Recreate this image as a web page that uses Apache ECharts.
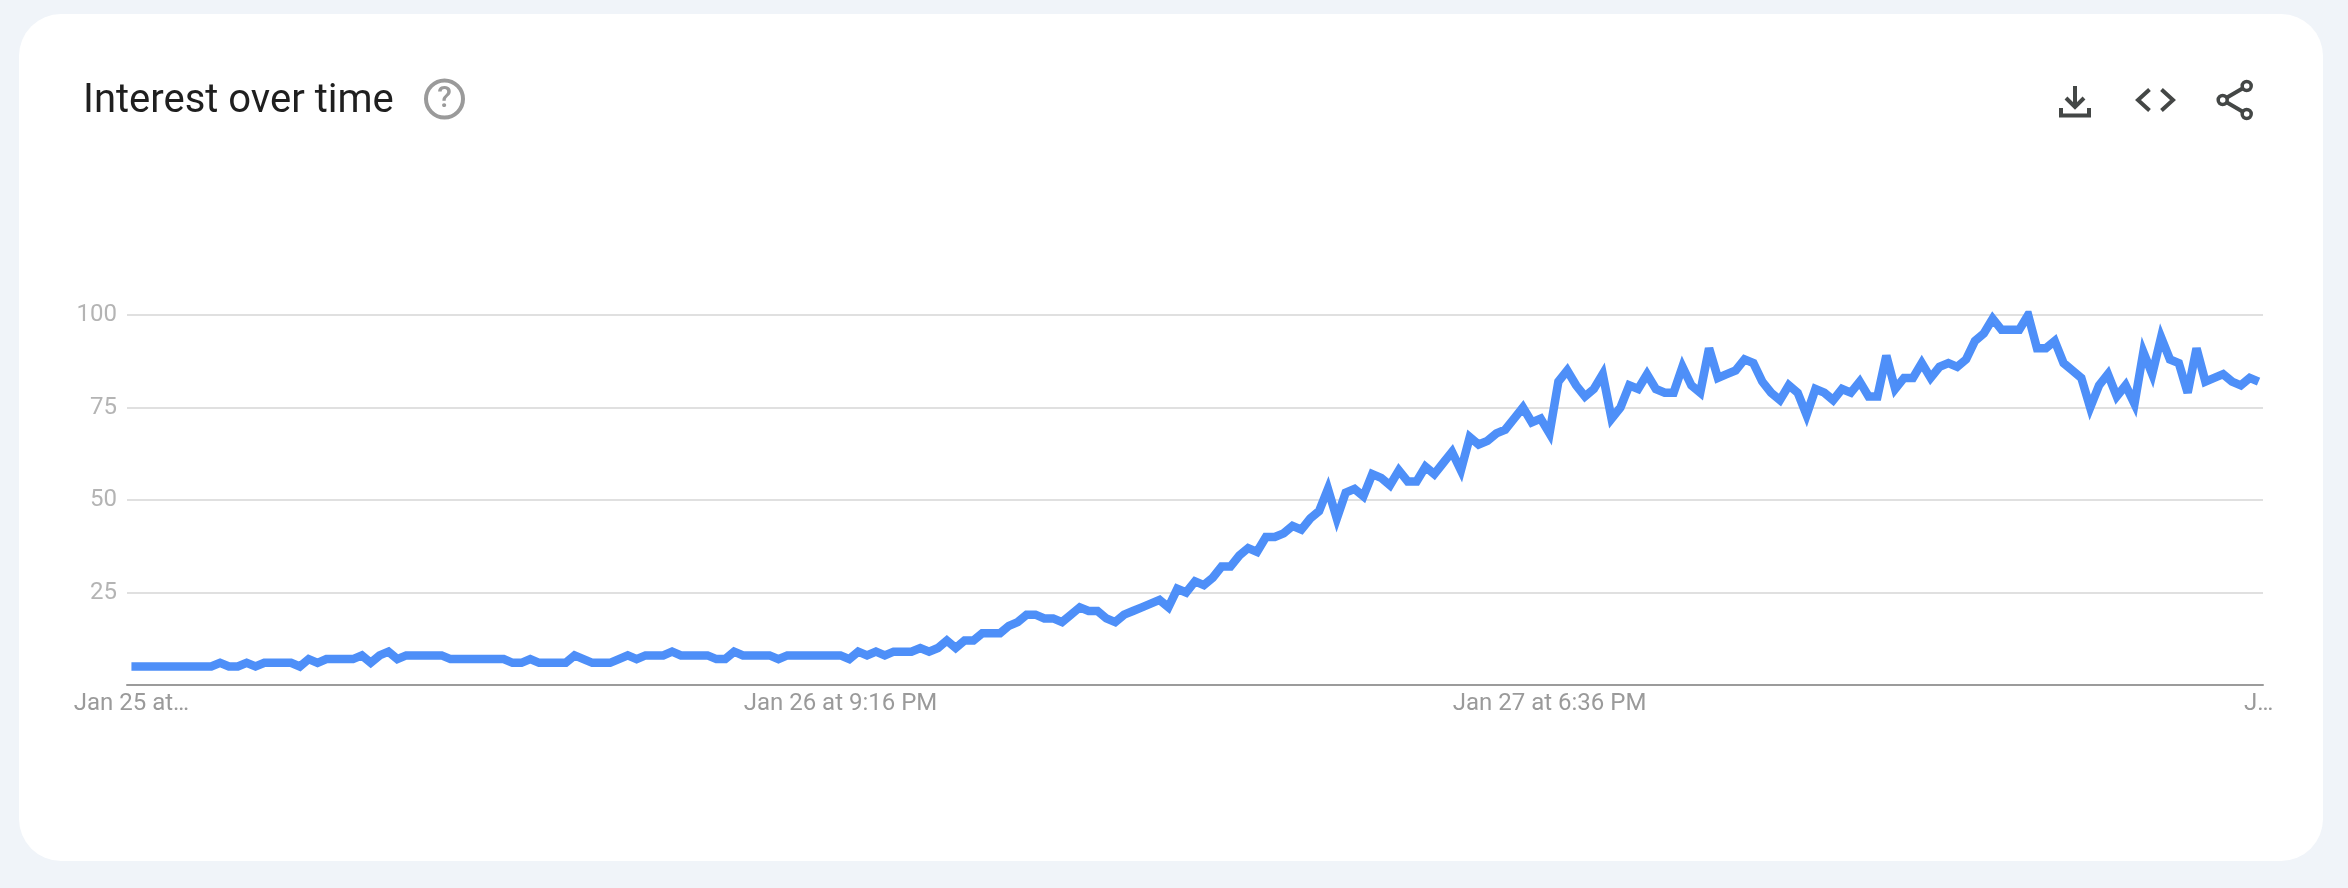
<!DOCTYPE html>
<html>
<head>
<meta charset="utf-8">
<title>Interest over time</title>
<script src="https://cdn.jsdelivr.net/npm/echarts@6/dist/echarts.min.js"></script>
<style>html,body{margin:0;padding:0;background:#f0f4f9}#c{width:2348px;height:888px}</style>
</head>
<body>
<div id="c"></div>
<script>
const titleText = "Interest over time";
const xTickLabels = ["Jan 25 at…", "Jan 26 at 9:16 PM", "Jan 27 at 6:36 PM", "J…"];
const yTickLabels = {0: "", 25: "25", 50: "50", 75: "75", 100: "100"};
const interest = [
 5,5,5,5,5,5,5,5,5,5,
 6,5,5,6,5,6,6,6,6,5,
 7,6,7,7,7,7,8,6,8,9,
 7,8,8,8,8,8,7,7,7,7,
 7,7,7,6,6,7,6,6,6,6,
 8,7,6,6,6,7,8,7,8,8,
 8,9,8,8,8,8,7,7,9,8,
 8,8,8,7,8,8,8,8,8,8,
 8,7,9,8,9,8,9,9,9,10,
 9,10,12,10,12,12,14,14,14,16,
 17,19,19,18,18,17,19,21,20,20,
 18,17,19,20,21,22,23,21,26,25,
 28,27,29,32,32,35,37,36,40,40,
 41,43,42,45,47,53,45,52,53,51,
 57,56,54,58,55,55,59,57,60,63,
 58,67,65,66,68,69,72,75,71,72,
 68,82,85,81,78,80,84,72,75,81,
 80,84,80,79,79,86,81,79,91,83,
 84,85,88,87,82,79,77,81,79,73,
 80,79,77,80,79,82,78,78,89,80,
 83,83,87,83,86,87,86,88,93,95,
 99,96,96,96,100,91,91,93,87,85,
 83,75,81,84,78,81,76,90,84,94,
 88,87,79,91,82,83,84,82,81,83,
 82
];
const labelEvery = 80;
const categories = interest.map((_, i) => i % labelEvery === 0 ? xTickLabels[i / labelEvery] : "");

const iconColor = "#444746";
const iconLine = {stroke: iconColor, lineWidth: 4, fill: null, lineCap: "butt", lineJoin: "miter"};
const poly = (pts) => ({type: "polyline", shape: {points: pts}, style: iconLine, z: 10});

const chart = echarts.init(document.getElementById("c"), null, {renderer: "canvas"});
chart.setOption({
  animation: false,
  backgroundColor: "#f0f4f9",
  title: {
    text: titleText, left: 83, top: 82, padding: 0,
    textStyle: {color: "#1f1f1f", fontSize: 40, fontWeight: 400, fontFamily: "Roboto"}
  },
  grid: {left: 127, top: 315, width: 2136, height: 370, containLabel: false},
  xAxis: {
    type: "category", data: categories, boundaryGap: true,
    axisLine: {show: true, lineStyle: {color: "#9b9b9b", width: 2}},
    axisTick: {show: false},
    splitLine: {show: false},
    axisLabel: {interval: labelEvery - 1, margin: 7, color: "#9a9a9a", fontSize: 24, fontFamily: "Roboto", hideOverlap: false, showMinLabel: true, showMaxLabel: true}
  },
  yAxis: {
    type: "value", min: 0, max: 100, interval: 25,
    axisLine: {show: false}, axisTick: {show: false},
    splitLine: {lineStyle: {color: "#e0e0e0", width: 2}},
    axisLabel: {margin: 10, color: "#b4b4b4", fontSize: 24, fontFamily: "Roboto", formatter: v => yTickLabels[v]}
  },
  series: [{
    type: "line", data: interest, symbol: "none", smooth: false,
    lineStyle: {color: "#4e8ff8", width: 8.5, join: "miter", miterLimit: 4, cap: "butt"}
  }],
  graphic: [
    {type: "rect", shape: {x: 19, y: 14, width: 2304, height: 847, r: 42}, style: {fill: "#ffffff"}, z: -10, silent: true},
    {type: "circle", shape: {cx: 444.5, cy: 99, r: 18.5}, style: {stroke: "#9a9a9a", lineWidth: 4, fill: null}, z: 10},
    {type: "text", x: 444.5, y: 99, style: {text: "?", fill: "#9a9a9a", fontSize: 30, fontWeight: 500, fontFamily: "Roboto", align: "center", verticalAlign: "middle"}, z: 10},
    poly([[2075, 86], [2075, 107]]),
    poly([[2066, 98], [2075, 107], [2084, 98]]),
    {type: "polyline", shape: {points: [[2061, 108], [2061, 115.5], [2089, 115.5], [2089, 108]]}, style: iconLine, z: 10},
    poly([[2149.5, 89.5], [2138, 100], [2149.5, 110.5]]),
    poly([[2161.5, 89.5], [2173, 100], [2161.5, 110.5]]),
    poly([[2246.7, 86], [2222.7, 100], [2246.7, 114]]),
    {type: "circle", shape: {cx: 2246.7, cy: 86, r: 4.5}, style: {stroke: iconColor, lineWidth: 3.5, fill: "#fff"}, z: 11},
    {type: "circle", shape: {cx: 2222.7, cy: 100, r: 4.5}, style: {stroke: iconColor, lineWidth: 3.5, fill: "#fff"}, z: 11},
    {type: "circle", shape: {cx: 2246.7, cy: 114, r: 4.5}, style: {stroke: iconColor, lineWidth: 3.5, fill: "#fff"}, z: 11}
  ]
});
</script>
</body>
</html>
